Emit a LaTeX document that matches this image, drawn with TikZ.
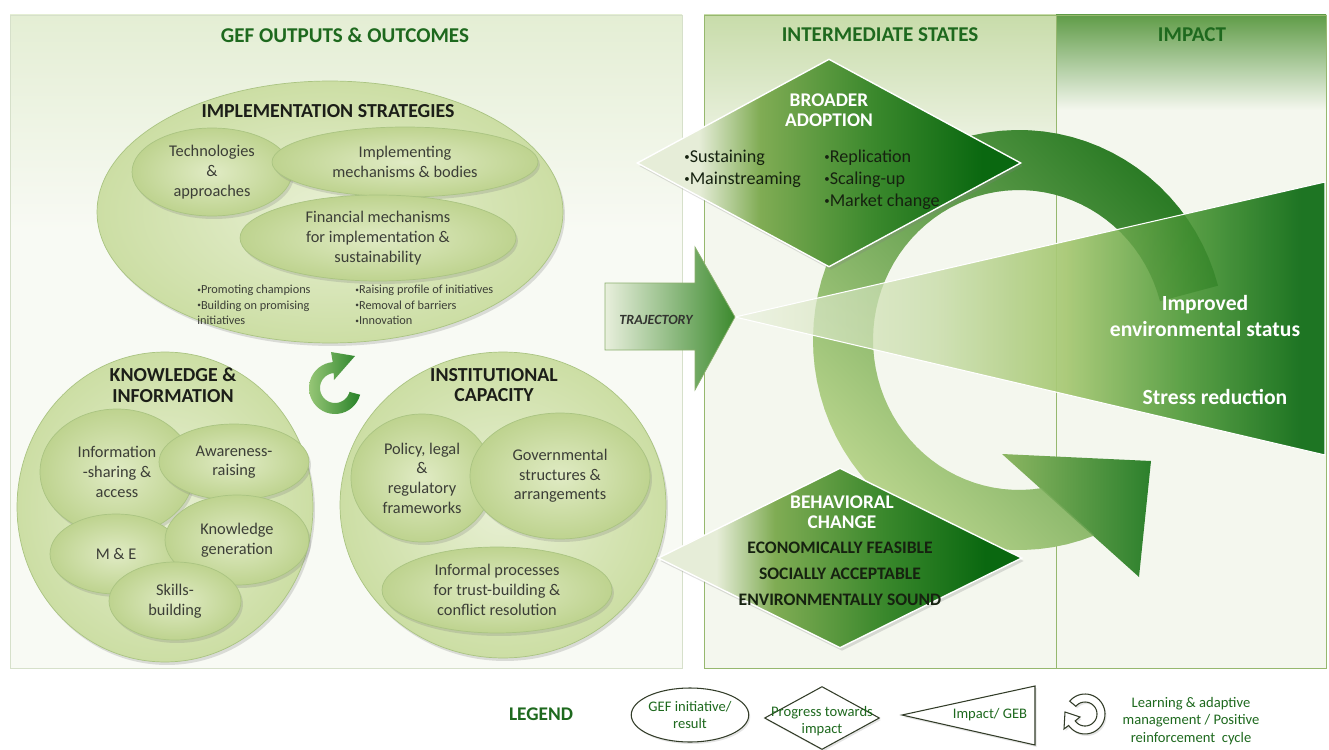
\documentclass[tikz,border=0pt]{standalone}
\usepackage{fontspec}
\setmainfont{Carlito}
\usepackage{xcolor}
\usepackage{graphicx}
\usepackage{tikz}
\usetikzlibrary{shapes.geometric, shadows, arrows}
\definecolor{hdgreen}{RGB}{30,105,30}
\definecolor{headInk}{RGB}{28,30,24}
\definecolor{ellInk}{RGB}{60,62,55}
\definecolor{bigIn}{RGB}{232,240,212}
\definecolor{bigOut}{RGB}{204,222,164}
\definecolor{subIn}{RGB}{224,235,196}
\definecolor{subOut}{RGB}{190,211,143}
\definecolor{ellEdge}{RGB}{170,196,130}
\definecolor{panelL}{RGB}{248,250,244}
\definecolor{panelLtop}{RGB}{228,238,212}
\definecolor{panelLedge}{RGB}{214,224,202}
\definecolor{panelM}{RGB}{244,247,238}
\definecolor{panelMtop}{RGB}{200,220,170}
\definecolor{panelRtop}{RGB}{96,156,72}
\definecolor{panelRedge}{RGB}{150,184,110}
\definecolor{dmL}{RGB}{230,237,216}
\definecolor{dmM1}{RGB}{128,172,84}
\definecolor{dmM2}{RGB}{58,136,44}
\definecolor{dmD}{RGB}{10,104,16}
\definecolor{wgL}{RGB}{238,243,228}
\definecolor{wgM1}{RGB}{206,224,178}
\definecolor{wgM2}{RGB}{166,200,114}
\definecolor{wgM3}{RGB}{80,154,58}
\definecolor{wgD}{RGB}{12,106,18}
\definecolor{bandL}{RGB}{184,212,140}
\definecolor{bandM}{RGB}{124,174,86}
\definecolor{bandR}{RGB}{44,124,38}
\definecolor{headL}{RGB}{140,182,98}
\definecolor{headR}{RGB}{44,128,44}
\definecolor{trajL}{RGB}{232,239,220}
\definecolor{trajR}{RGB}{60,138,46}
\definecolor{trajEdge}{RGB}{140,176,110}
\definecolor{trajInk}{RGB}{50,52,48}
\definecolor{stageInk}{RGB}{22,34,16}
\definecolor{icoL}{RGB}{150,198,118}
\definecolor{icoR}{RGB}{40,130,40}
\definecolor{legInk}{RGB}{50,60,40}
\pgfdeclarehorizontalshading{diamshade}{100bp}{color(0bp)=(dmL); color(33bp)=(dmL); color(41bp)=(dmM1); color(56bp)=(dmM2); color(70bp)=(dmD); color(100bp)=(dmD)}
\pgfdeclarehorizontalshading{wedgeshade}{100bp}{color(0bp)=(wgL); color(25bp)=(wgL); color(42bp)=(wgM1); color(53bp)=(wgM2); color(63bp)=(wgM3); color(73bp)=(wgD); color(100bp)=(wgD)}
\newcommand{\bul}{\raisebox{0.12em}{\scalebox{0.6}{•}}}
\tikzstyle{softshadow} = [drop shadow={opacity=0.25, shadow xshift=0.04cm, shadow yshift=-0.06cm}]
\tikzstyle{colhead} = [font=\bfseries\fontsize{12}{13}\selectfont, text=hdgreen]
\tikzstyle{bigell} = [ellipse, draw=ellEdge, inner color=bigIn, outer color=bigOut, inner sep=0pt, softshadow]
\tikzstyle{subell} = [ellipse, draw=ellEdge, inner color=subIn, outer color=subOut, inner sep=0pt, text=ellInk, align=center, font=\fontsize{9.3}{11.2}\selectfont, softshadow]
\tikzstyle{ellhead} = [font=\bfseries\fontsize{11.3}{11.8}\selectfont, text=headInk, align=center]
\tikzstyle{bullets} = [font=\fontsize{7}{8.8}\selectfont, text=ellInk, align=left, inner sep=0pt]
\tikzstyle{stage} = [diamond, draw=white, line width=0.8pt, shade, shading=diamshade, inner sep=0pt, softshadow]
\tikzstyle{stagehead} = [font=\bfseries\fontsize{11}{11.5}\selectfont, text=white, align=center]
\tikzstyle{stagetext} = [font=\fontsize{10.3}{12.5}\selectfont, text=stageInk, align=left, inner sep=0pt]
\tikzstyle{wedgetext} = [font=\bfseries\fontsize{12.3}{14.5}\selectfont, text=white, align=center]
\tikzstyle{bandfill} = [bottom color=bandL, middle color=bandM, top color=bandR, shading angle=-45]
\tikzstyle{legshape} = [draw=legInk, fill=white, line width=0.6pt, drop shadow={opacity=0.2, shadow xshift=0.03cm, shadow yshift=-0.04cm}]
\tikzstyle{legtext} = [font=\fontsize{8.3}{9.8}\selectfont, text=hdgreen, align=center]

\begin{document}
\begin{tikzpicture}[x=0.02cm, y=-0.02cm]
\useasboundingbox (0,0) rectangle (1329,750);
\fill[white] (0,0) rectangle (1329,750);

\fill[panelL] (10,15) rectangle (682,668);
\shade[top color=panelLtop, bottom color=panelL] (10,15) rectangle (682,230);
\draw[panelLedge] (10,15) rectangle (682,668);
\fill[panelM] (704,15) rectangle (1326,668);
\shade[top color=panelMtop, bottom color=panelM] (704,15) rectangle (1056,170);
\shade[top color=panelRtop, bottom color=panelM] (1056,15) rectangle (1326,110);
\draw[panelRedge] (704,15) rectangle (1326,668) (1056,15) -- (1056,668);

\node[colhead] (ttlOut) at (345,35) {GEF OUTPUTS \& OUTCOMES};
\node[colhead] (ttlInt) at (880,35) {INTERMEDIATE STATES};
\node[colhead] (ttlImp) at (1192,35) {IMPACT};

\node[bigell, minimum width=9.32cm, minimum height=5.24cm] (implE) at (330,212) {};
\node[ellhead] (implHead) at (328,111) {IMPLEMENTATION STRATEGIES};
\node[subell, minimum width=3.2cm, minimum height=1.76cm] (tech) at (212,172)
	{Technologies\\\&\\approaches};
\node[subell, minimum width=5.32cm, minimum height=1.4cm] (impl) at (405,162)
	{Implementing\\mechanisms \& bodies};
\node[subell, minimum width=5.52cm, minimum height=1.72cm] (fin) at (378,238)
	{Financial mechanisms\\for implementation \&\\sustainability};
\node[bullets, anchor=west] (implB1) at (197,305)
	{\bul Promoting champions\\\bul Building on promising\\initiatives};
\node[bullets, anchor=west] (implB2) at (355,305)
	{\bul Raising profile of initiatives\\\bul Removal of barriers\\\bul Innovation};

\node[bigell, minimum width=5.92cm, minimum height=6.2cm] (knowE) at (165,507) {};
\node[ellhead] (knowHead) at (173,385) {KNOWLEDGE \&\\INFORMATION};
\node[subell, minimum width=3.08cm, minimum height=2.52cm] (info) at (117,472)
	{Information\\-sharing \&\\access};
\node[subell, minimum width=3cm, minimum height=1.52cm] (aware) at (234,462)
	{Awareness-\\raising};
\node[subell, minimum width=2.64cm, minimum height=1.6cm] (me) at (116,554) {M \& E};
\node[subell, minimum width=2.88cm, minimum height=1.8cm] (knowg) at (237,540)
	{Knowledge\\generation};
\node[subell, minimum width=2.64cm, minimum height=1.56cm] (skills) at (175,601)
	{Skills-\\building};

\node[bigell, minimum width=6.52cm, minimum height=6.12cm] (instE) at (503,505) {};
\node[ellhead] (instHead) at (494,385) {INSTITUTIONAL\\CAPACITY};
\node[subell, minimum width=2.84cm, minimum height=2.56cm] (policy) at (422,478)
	{Policy, legal\\\&\\regulatory\\frameworks};
\node[subell, minimum width=3.6cm, minimum height=2.52cm] (govt) at (560,476)
	{Governmental\\structures \&\\arrangements};
\node[subell, minimum width=4.6cm, minimum height=1.72cm] (informal) at (497,590)
	{Informal processes\\for trust-building \&\\conflict resolution};

\shade[left color=icoL, right color=icoR]
	plot[domain=15:265, samples=30] ({335+26*cos(\x)},{388+26*sin(\x)})
	-- (331,352) -- (355,356) -- (334,380)
	-- plot[domain=265:15, samples=30] ({335+15*cos(\x)},{388+15*sin(\x)}) -- cycle;

\shade[bandfill]
	plot[domain=-15:-291.5, samples=70] ({1019+206*cos(\x)},{340+210*sin(\x)})
	-- plot[domain=-279:-15, samples=70] ({1019+146*cos(\x)},{340+150*sin(\x)}) -- cycle;
\shade[left color=headL, right color=headR] (1002,454) -- (1151,461) -- (1139,577) -- cycle;

\shade[shading=wedgeshade, fill opacity=0.92] (735,317) -- (1325,182) -- (1325,455) -- cycle;
\shade[bandfill, fill opacity=0.3]
	plot[domain=-15:-291.5, samples=70] ({1019+206*cos(\x)},{340+210*sin(\x)})
	-- plot[domain=-279:-15, samples=70] ({1019+146*cos(\x)},{340+150*sin(\x)}) -- cycle;
\draw[white, line width=0.6pt] (735,317) -- (1325,182) -- (1325,455) -- cycle;

\shade[left color=trajL, right color=trajR, draw=trajEdge, line width=0.4pt]
	(605,283) -- (695,283) -- (695,247) -- (735,317) -- (695,390) -- (695,350) -- (605,350) -- cycle;
\node[font=\bfseries\itshape\fontsize{8}{9}\selectfont, text=trajInk] (traj) at (656,320) {TRAJECTORY};

\node[stage, minimum width=7.68cm, minimum height=4.16cm] (broad) at (829,163) {};
\node[stagehead] (broadHead) at (829,110) {BROADER\\ADOPTION};
\node[stagetext, anchor=west] (broadL) at (684,169) {\bul Sustaining\\\bul Mainstreaming};
\node[stagetext, anchor=west] (broadR) at (824,180) {\bul Replication\\\bul Scaling-up\\\bul Market change};

\node[stage, minimum width=7.28cm, minimum height=3.6cm] (behav) at (840,558) {};
\node[stagehead] (behavHead) at (842,512) {BEHAVIORAL\\CHANGE};
\node[stagetext, align=center, font=\bfseries\fontsize{10}{14.7}\selectfont] (behavT) at (840,574)
	{ECONOMICALLY FEASIBLE\\SOCIALLY ACCEPTABLE\\ENVIRONMENTALLY SOUND};

\node[wedgetext] (improved) at (1205,316) {Improved\\environmental status};
\node[wedgetext] (stress) at (1215,397) {Stress reduction};

\node[font=\bfseries\fontsize{11}{12}\selectfont, text=hdgreen] (legTitle) at (541,714) {LEGEND};
\node[legshape, legtext, ellipse, inner sep=0pt, minimum width=2.28cm, minimum height=1.08cm] (legE)
	at (690,715) {GEF initiative/\\result};
\node[legshape, diamond, inner sep=0pt, minimum width=2.3cm, minimum height=1.26cm] (legD) at (822,718) {};
\node[legtext] (legDtext) at (822,721) {Progress towards\\impact};
\draw[legshape] (902,715) -- (1035,686) -- (1035,745) -- cycle;
\node[legtext] (legTtext) at (990,715) {Impact/ GEB};
\draw[legshape]
	plot[domain=-140:145, samples=40] ({1085+20*cos(\x)},{714+20*sin(\x)})
	-- (1064,729) -- (1065,712) -- (1080,717)
	-- plot[domain=145:-140, samples=40] ({1085+12*cos(\x)},{714+12*sin(\x)}) -- cycle;
\node[legtext] (legCtext) at (1191,721) {Learning \& adaptive\\management / Positive\\reinforcement \ cycle};
\end{tikzpicture}
\end{document}
